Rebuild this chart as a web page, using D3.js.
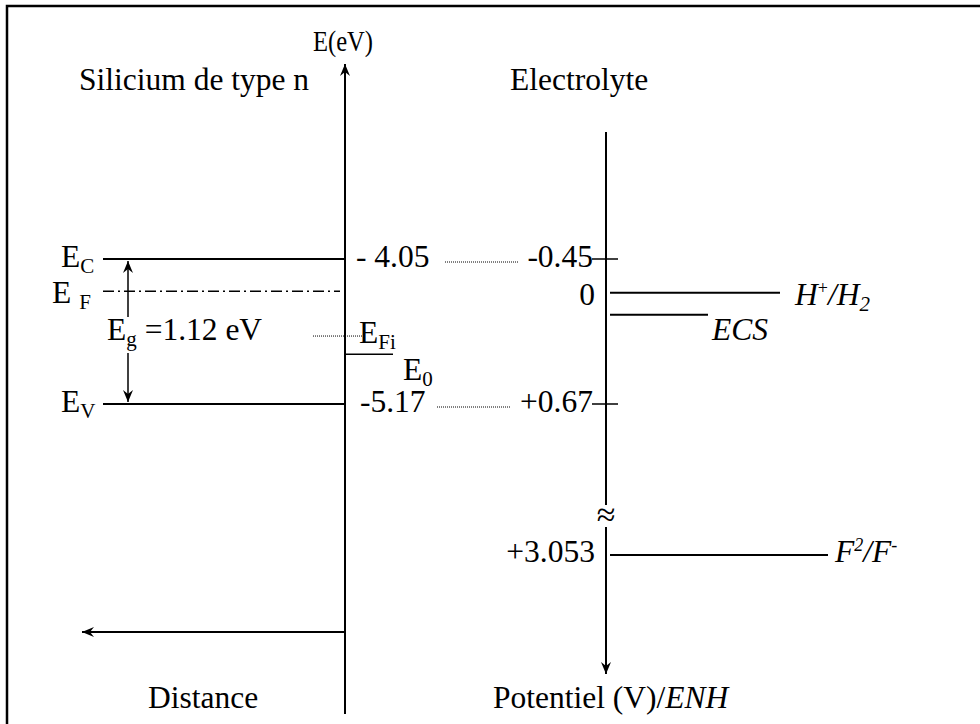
<!DOCTYPE html>
<html lang="fr">
<head>
<meta charset="UTF-8">
<title>Diagramme de bandes Si / electrolyte</title>
<script src="https://d3js.org/d3.v7.min.js"></script>
<style>
  body { margin: 0; background: #fff; }
  text { font-family: "Liberation Serif", "Times New Roman", serif; fill: #000; }
</style>
</head>
<body>
<script>
  // niveaux du silicium (eV)
  const bandNames = ["C", "V"];
  const bandEnergies = [-4.05, -5.17];
  const bandValueLabels = ["- 4.05", "-5.17"];
  const fermiLevel = -4.30;      // E F
  const intrinsicLevel = -4.645; // E Fi
  const e0Level = -4.785;        // E0
  const gapLabel = "=1.12 eV";

  // echelle electrochimique (V / ENH)
  const potentialTicks = [-0.45, 0.67];
  const potentialTickLabels = ["-0.45", "+0.67"];
  const redoxNames = ["H+/H2", "ECS", "F2/F-"];
  const redoxPositions = [-0.19, -0.02, 3.053]; // positions
  const redoxValueLabels = ["0", "", "+3.053"];

  const width = 980, height = 724;
  const axisX = 345, elecX = 606;
  const fs = 31.5;

  const svg = d3.select("body").append("svg")
      .attr("width", width)
      .attr("height", height);

  // echelles : energie a gauche, potentiel (avec coupure) a droite
  const yE = d3.scaleLinear().domain([-4.05, -5.17]).range([259, 404]);
  const yV = d3.scaleLinear().domain([-0.45, 0.67, 3.053]).range([259, 404, 555]);

  // fleche
  svg.append("defs").append("marker")
      .attr("id", "arrow")
      .attr("viewBox", "-12 -6 14 12")
      .attr("refX", 0).attr("refY", 0)
      .attr("markerWidth", 14).attr("markerHeight", 12)
      .attr("markerUnits", "userSpaceOnUse")
      .attr("orient", "auto-start-reverse")
      .append("path")
      .attr("d", "M0,0 L-12,-5 L-8,0 L-12,5 Z")
      .attr("fill", "#000");

  // cadre
  svg.append("path")
      .attr("d", "M7,724 V6 H980")
      .attr("fill", "none").attr("stroke", "#000").attr("stroke-width", 2.5);

  function line(x1, y1, x2, y2, w) {
    return svg.append("line")
        .attr("x1", x1).attr("y1", y1).attr("x2", x2).attr("y2", y2)
        .attr("stroke", "#000").attr("stroke-width", w || 2);
  }

  function label(x, y, parts, anchor, size) {
    const t = svg.append("text")
        .attr("x", x).attr("y", y)
        .attr("font-size", size || fs)
        .attr("text-anchor", anchor || "start");
    parts.forEach(p => {
      const s = t.append("tspan").text(p.t);
      if (p.sub) s.attr("font-size", 21).attr("dy", 6);
      if (p.sup) s.attr("font-size", 18).attr("dy", -11);
      if (p.back) s.attr("dy", p.back);
      if (p.i) s.attr("font-style", "italic");
    });
    return t;
  }

  // axe E(eV)
  line(axisX, 714, axisX, 64).attr("marker-end", "url(#arrow)");
  label(313, 51, [{t: "E(eV)"}], "start", 30)
      .attr("textLength", 60).attr("lengthAdjust", "spacingAndGlyphs");
  // axe distance
  line(axisX, 632, 82, 632).attr("marker-end", "url(#arrow)");
  label(148, 708, [{t: "Distance"}]);

  label(79, 90, [{t: "Silicium de type n"}]);
  label(510, 90, [{t: "Electrolyte"}]);

  // bandes de conduction et de valence
  bandEnergies.forEach((e, i) => {
    line(103, yE(e), axisX, yE(e));
    label(61, yE(e) + 8, [{t: "E"}, {t: bandNames[i], sub: true}]);
    label(i === 0 ? 356 : 360, yE(e) + 8, [{t: bandValueLabels[i]}]);
  });

  // niveau de Fermi
  line(103, yE(fermiLevel), 340, yE(fermiLevel), 1.5)
      .attr("stroke-dasharray", "11,4,2,4");
  label(52, yE(fermiLevel) + 12, [{t: "E "}, {t: "F", sub: true}]);

  // gap
  line(128, yE(bandEnergies[0]) + 2, 128, 317, 1.5).attr("marker-start", "url(#arrow)");
  line(128, 353, 128, yE(bandEnergies[1]) - 2, 1.5).attr("marker-end", "url(#arrow)");
  label(107, yE(intrinsicLevel) + 4, [{t: "E"}, {t: "g", sub: true}, {t: " " + gapLabel, back: -6}]);

  // niveau intrinseque et E0
  line(313, yE(intrinsicLevel), 362, yE(intrinsicLevel), 1)
      .attr("stroke-dasharray", "1,1");
  label(359, yE(intrinsicLevel) + 7, [{t: "E"}, {t: "Fi", sub: true}]);
  line(axisX, yE(e0Level), 393, yE(e0Level), 1.5);
  label(403, yE(e0Level) + 26, [{t: "E"}, {t: "0", sub: true}]);

  // correspondance eV / V
  bandEnergies.forEach((e, i) => {
    line(i === 0 ? 445 : 437, yE(e) + 3, i === 0 ? 518 : 510, yE(e) + 3, 1)
        .attr("stroke-dasharray", "1,1");
  });

  // axe des potentiels avec coupure
  line(elecX, 132, elecX, 505);
  line(elecX, 527, elecX, 674).attr("marker-end", "url(#arrow)");
  svg.append("text")
      .attr("x", elecX).attr("y", 526)
      .attr("font-size", 34).attr("text-anchor", "middle")
      .text("\u2248");
  label(493, 708, [{t: "Potentiel (V)/"}, {t: "ENH", i: true}]);

  potentialTicks.forEach((v, i) => {
    line(elecX - 14, yV(v), elecX + 12, yV(v), 1.5);
    label(elecX - 13, yV(v) + 8, [{t: potentialTickLabels[i]}], "end");
  });

  // couples redox
  const redoxEnds = [780, 708, 828];
  const redoxText = [
    [{t: "H", i: true}, {t: "+", sup: true}, {t: "/H", i: true, back: 11}, {t: "2", sub: true, i: true}],
    [{t: "ECS", i: true}],
    [{t: "F", i: true}, {t: "2", sup: true, i: true}, {t: "/F", i: true, back: 11}, {t: "-", sup: true}]
  ];
  const redoxTextX = [795, 712, 835];
  const redoxTextDy = [12, 25, 7];
  redoxPositions.forEach((v, i) => {
    line(elecX + 4, yV(v), redoxEnds[i], yV(v));
    label(redoxTextX[i], yV(v) + redoxTextDy[i], redoxText[i]);
    if (redoxValueLabels[i]) {
      label(elecX - 11, yV(v) + (i === 0 ? 12 : 7), [{t: redoxValueLabels[i]}], "end");
    }
  });
</script>
</body>
</html>
